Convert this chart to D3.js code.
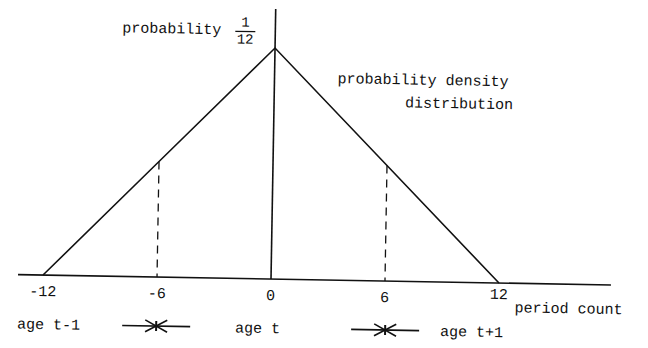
<!DOCTYPE html>
<html>
<head>
<meta charset="utf-8">
<script src="https://cdn.jsdelivr.net/npm/d3@7"></script>
<style>
  html, body { margin: 0; padding: 0; background: #fff; }
  text { font-family: "Liberation Mono", "DejaVu Sans Mono", monospace; fill: #111; }
</style>
</head>
<body>
<script>
// data
const periods = [-12, -6, 0, 6, 12];
const density = [0, 1 / 24, 1 / 12, 1 / 24, 0];
const dashedAt = [-6, 6];
const tickLabels = ["-12", "-6", "0", "6", "12"];
const legendLabels = ["age t-1", "age t", "age t+1"];

const width = 648;
const height = 348;
const originX = 270;
const originY = 279;
const tilt = 1; // the scan is slightly rotated

const svg = d3.select("body")
    .append("svg")
    .attr("width", width)
    .attr("height", height);

const g = svg.append("g")
    .attr("transform", `rotate(${tilt},${originX},${originY})`);

const x = d3.scaleLinear()
    .domain([-12, 12])
    .range([43, 499]);

const y = d3.scaleLinear()
    .domain([0, 1 / 12])
    .range([originY, 48]);

// horizontal axis
g.append("line")
    .attr("x1", 18).attr("x2", 611)
    .attr("y1", y(0)).attr("y2", y(0))
    .attr("stroke", "#111")
    .attr("stroke-width", 1.6);

// vertical axis through 0
g.append("line")
    .attr("x1", x(0)).attr("x2", x(0))
    .attr("y1", 9).attr("y2", y(0))
    .attr("stroke", "#111")
    .attr("stroke-width", 1.6);

// triangle density
const line = d3.line()
    .x((d, i) => x(periods[i]))
    .y(d => y(d));

g.append("path")
    .datum(density)
    .attr("d", line)
    .attr("fill", "none")
    .attr("stroke", "#111")
    .attr("stroke-width", 1.6);

// dashed verticals
g.selectAll(".drop")
    .data(dashedAt)
    .enter()
    .append("line")
    .attr("class", "drop")
    .attr("x1", d => x(d)).attr("x2", d => x(d))
    .attr("y1", d => y(density[periods.indexOf(d)]))
    .attr("y2", y(0))
    .attr("stroke", "#111")
    .attr("stroke-width", 1.3)
    .attr("stroke-dasharray", "8,6");

// tick labels
g.selectAll(".tick-label")
    .data(periods)
    .enter()
    .append("text")
    .attr("class", "tick-label")
    .attr("x", d => x(d))
    .attr("y", (d, i) => i === 4 ? 295 : 300)
    .attr("text-anchor", "middle")
    .style("font-size", "15px")
    .text((d, i) => tickLabels[i]);

g.append("text")
    .attr("x", 515)
    .attr("y", 308)
    .style("font-size", "15px")
    .text("period count");

// top label with fraction
g.append("text")
    .attr("x", 118)
    .attr("y", 35)
    .style("font-size", "15px")
    .text("probability");

g.append("text")
    .attr("x", 241)
    .attr("y", 27)
    .attr("text-anchor", "middle")
    .style("font-size", "14px")
    .text("1");

g.append("line")
    .attr("x1", 231).attr("x2", 251)
    .attr("y1", 32).attr("y2", 32)
    .attr("stroke", "#111")
    .attr("stroke-width", 1.3);

g.append("text")
    .attr("x", 241)
    .attr("y", 44)
    .attr("text-anchor", "middle")
    .style("font-size", "14px")
    .text("12");

g.append("text")
    .attr("x", 334)
    .attr("y", 82)
    .style("font-size", "15px")
    .text("probability density");

g.append("text")
    .attr("x", 402)
    .attr("y", 105)
    .style("font-size", "15px")
    .text("distribution");

// legend
const legendX = [18, 236, 441];
g.selectAll(".legend-label")
    .data(legendLabels)
    .enter()
    .append("text")
    .attr("class", "legend-label")
    .attr("x", (d, i) => legendX[i])
    .attr("y", 333)
    .style("font-size", "15px")
    .text(d => d);

const symbolX = [157, 386];
const sym = g.selectAll(".sym")
    .data(symbolX)
    .enter()
    .append("g")
    .attr("class", "sym")
    .attr("transform", d => `translate(${d},328)`)
    .attr("stroke", "#111");

sym.append("line")
    .attr("x1", -34).attr("x2", 34)
    .attr("y1", 0).attr("y2", 0)
    .attr("stroke-width", 1.6);
sym.append("line")
    .attr("x1", -11).attr("x2", 11)
    .attr("y1", -6).attr("y2", 6)
    .attr("stroke-width", 1.6);
sym.append("line")
    .attr("x1", -11).attr("x2", 11)
    .attr("y1", 6).attr("y2", -6)
    .attr("stroke-width", 1.6);
sym.append("line")
    .attr("x1", 0).attr("x2", 0)
    .attr("y1", -5).attr("y2", 5)
    .attr("stroke-width", 2);
</script>
</body>
</html>
